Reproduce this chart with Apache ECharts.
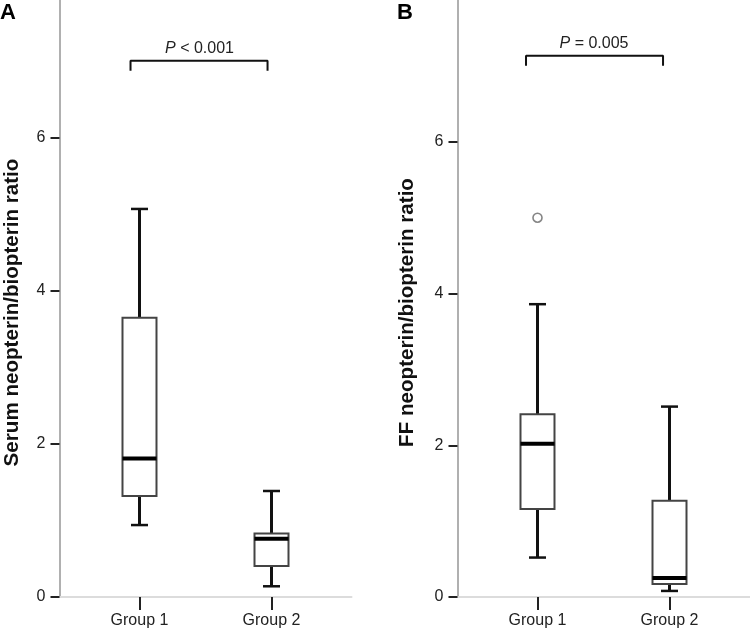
<!DOCTYPE html>
<html>
<head>
<meta charset="utf-8">
<script src="https://cdn.jsdelivr.net/npm/echarts@6/dist/echarts.min.js"></script>
<style>
html,body{margin:0;padding:0;background:#fff;}
#chart{width:750px;height:632px;}
</style>
</head>
<body>
<div id="chart"></div>
<script>
// ---- data ----
const categories = ['Group 1', 'Group 2'];
const categoryPositions = [1, 2];
const yTicks = [0, 2, 4, 6];
// [min, Q1, median, Q3, max]
const serumGroup1 = [0.94, 1.32, 1.81, 3.65, 5.07];
const serumGroup2 = [0.14, 0.405, 0.76, 0.83, 1.385];
const ffGroup1 = [0.52, 1.16, 2.02, 2.41, 3.86];
const ffGroup2 = [0.08, 0.17, 0.25, 1.27, 2.51];
const ffOutliers = [[1, 5.0]];
const serumYMax = 7.8;
const ffYMax = 7.87;
const serumBracketX = [0.932, 1.97];
const serumBracketY = [6.876, 7.007];
const ffBracketX = [0.913, 1.951];
const ffBracketY = [7.004, 7.136];
const serumPText = ' < 0.001';
const ffPText = ' = 0.005';
const serumAxisName = 'Serum neopterin/biopterin ratio';
const ffAxisName = 'FF neopterin/biopterin ratio';

// ---- styles ----
const FONT = '"Liberation Sans", Arial, Helvetica, sans-serif';
const BOX_W = 34;
const CAP_W = 17;

function boxData(g1, g2) {
  return [[categoryPositions[0]].concat(g1), [categoryPositions[1]].concat(g2)];
}
function bracketData(xs, ys) {
  return [[xs[0], ys[0]], [xs[0], ys[1]], [xs[1], ys[1]], [xs[1], ys[0]]];
}

function renderBox(params, api) {
  const x = api.value(0);
  const lo = api.coord([x, api.value(1)]);
  const q1 = api.coord([x, api.value(2)]);
  const md = api.coord([x, api.value(3)]);
  const q3 = api.coord([x, api.value(4)]);
  const hi = api.coord([x, api.value(5)]);
  const cx = lo[0];
  const h = BOX_W / 2, c = CAP_W / 2;
  const wStyle = {stroke: '#111', lineWidth: 3};
  const capStyle = {stroke: '#111', lineWidth: 2.5};
  return {
    type: 'group',
    children: [
      {type: 'line', shape: {x1: cx, y1: hi[1], x2: cx, y2: q3[1]}, style: wStyle},
      {type: 'line', shape: {x1: cx - c, y1: hi[1], x2: cx + c, y2: hi[1]}, style: capStyle},
      {type: 'line', shape: {x1: cx, y1: lo[1], x2: cx, y2: q1[1]}, style: wStyle},
      {type: 'line', shape: {x1: cx - c, y1: lo[1], x2: cx + c, y2: lo[1]}, style: capStyle},
      {type: 'rect', shape: {x: cx - h, y: q3[1], width: BOX_W, height: q1[1] - q3[1]},
        style: {fill: '#fff', stroke: '#444', lineWidth: 2}},
      {type: 'line', shape: {x1: cx - h, y1: md[1], x2: cx + h, y2: md[1]}, style: {stroke: '#000', lineWidth: 4}}
    ]
  };
}

function xAxisCfg(gi) {
  return {
    gridIndex: gi, type: 'value', min: 0.394, max: 2.606,
    axisLine: {show: true, onZero: false, lineStyle: {color: '#dcdcdc', width: 2}},
    axisTick: {show: true, customValues: categoryPositions, length: 13, lineStyle: {color: '#222', width: 2}},
    axisLabel: {show: true, customValues: categoryPositions, formatter: v => categories[Math.round(v) - 1],
      fontSize: 16, color: '#222', fontFamily: FONT, margin: 16},
    splitLine: {show: false}
  };
}
function yAxisCfg(gi, max, name, gap) {
  return {
    gridIndex: gi, type: 'value', min: 0, max: max,
    name: name, nameLocation: 'middle', nameGap: gap,
    nameTextStyle: {fontSize: 20.6, fontWeight: 'bold', color: '#111', fontFamily: FONT, padding: [0, 28, 0, 0]},
    axisLine: {show: true, onZero: false, lineStyle: {color: '#b0b0b0', width: 2}},
    axisTick: {show: true, customValues: yTicks, length: 9, lineStyle: {color: '#222', width: 2}},
    axisLabel: {show: true, customValues: yTicks, fontSize: 16, color: '#222', fontFamily: FONT, margin: 14},
    splitLine: {show: false}
  };
}
function pTitle(text, left, top) {
  return {
    text: '{i|P}' + text, left: left, top: top, textAlign: 'center', padding: 0,
    textStyle: {fontSize: 16, fontWeight: 'normal', color: '#222', fontFamily: FONT,
      rich: {i: {fontStyle: 'italic', fontSize: 16, color: '#222', fontFamily: FONT}}}
  };
}

const chart = echarts.init(document.getElementById('chart'), null, {renderer: 'canvas'});
chart.setOption({
  animation: false,
  backgroundColor: '#fff',
  title: [
    {text: 'A', left: 0, top: 2, padding: 0, textStyle: {fontSize: 22, fontWeight: 'bold', color: '#000', fontFamily: FONT}},
    {text: 'B', left: 397, top: 2, padding: 0, textStyle: {fontSize: 22, fontWeight: 'bold', color: '#000', fontFamily: FONT}},
    pTitle(serumPText, 199.5, 41),
    pTitle(ffPText, 594, 36)
  ],
  grid: [
    {left: 59.5, top: 0, width: 292, height: 597},
    {left: 457.5, top: 0, width: 292, height: 597}
  ],
  xAxis: [xAxisCfg(0), xAxisCfg(1)],
  yAxis: [yAxisCfg(0, serumYMax, serumAxisName, 37), yAxisCfg(1, ffYMax, ffAxisName, 40)],
  series: [
    {type: 'custom', xAxisIndex: 0, yAxisIndex: 0, data: boxData(serumGroup1, serumGroup2),
      encode: {x: 0, y: [1, 2, 3, 4, 5]}, renderItem: renderBox, silent: true},
    {type: 'custom', xAxisIndex: 1, yAxisIndex: 1, data: boxData(ffGroup1, ffGroup2),
      encode: {x: 0, y: [1, 2, 3, 4, 5]}, renderItem: renderBox, silent: true},
    {type: 'scatter', xAxisIndex: 1, yAxisIndex: 1, data: ffOutliers, symbol: 'circle', symbolSize: 9,
      itemStyle: {color: '#fff', borderColor: '#666', borderWidth: 1.6}, silent: true},
    {type: 'line', xAxisIndex: 0, yAxisIndex: 0, data: bracketData(serumBracketX, serumBracketY),
      symbol: 'none', lineStyle: {color: '#111', width: 2}, silent: true},
    {type: 'line', xAxisIndex: 1, yAxisIndex: 1, data: bracketData(ffBracketX, ffBracketY),
      symbol: 'none', lineStyle: {color: '#111', width: 2}, silent: true}
  ]
});
</script>
</body>
</html>
